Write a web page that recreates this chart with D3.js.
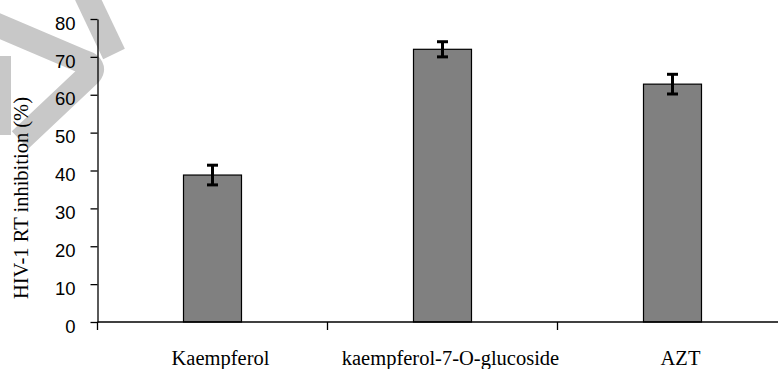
<!DOCTYPE html>
<html>
<head>
<meta charset="utf-8">
<script src="https://cdn.jsdelivr.net/npm/d3@7"></script>
<style>
	body { margin: 0; background: #fff; }
	svg { display: block; }
</style>
</head>
<body>
<div id="root"></div>
<script>
const categories = ["Kaempferol", "kaempferol-7-O-glucoside", "AZT"];
const inhibition = [38.8, 72.0, 62.8];
const errors = [2.6, 2.0, 2.6];
const yTicks = [0, 10, 20, 30, 40, 50, 60, 70, 80];

var svg = d3
		.select("#root")
		.append("svg")
		.attr("width", 778)
		.attr("height", 369),
	margin = { top: 19, left: 97.5, bottom: 47 },
	height = +svg.attr("height") - margin.bottom;

// faint watermark strokes in the top left corner
const wm = svg.append("g")
	.attr("fill", "none")
	.attr("stroke", "#c8c8c8")
	.attr("stroke-width", 24);
wm.append("path").attr("d", "M-10,22 L84,62 Q96,66 90,74 L20,140");
wm.append("path").attr("d", "M86,-5 L114,54");
wm.append("path").attr("stroke-width", 14).attr("d", "M4,56 L4,135");

var x = d3
	.scaleBand()
	.domain(categories)
	.range([margin.left, margin.left + 3 * 230]);

var y = d3.scaleLinear().domain([0, 80]).range([height, margin.top]);

const barW = 58;

// bars
svg.append("g")
	.selectAll("rect")
	.data(categories)
	.join("rect")
	.attr("x", (d) => x(d) + x.bandwidth() / 2 - barW / 2)
	.attr("y", (d, i) => y(inhibition[i]))
	.attr("width", barW)
	.attr("height", (d, i) => y(0) - y(inhibition[i]))
	.attr("fill", "#808080")
	.attr("stroke", "#000")
	.attr("stroke-width", 1.2);

// error bars
const eb = svg.append("g")
	.attr("stroke", "#000")
	.attr("stroke-width", 3)
	.selectAll("g")
	.data(categories)
	.join("g")
	.attr("transform", (d) => `translate(${x(d) + x.bandwidth() / 2},0)`);
eb.append("line")
	.attr("y1", (d, i) => y(inhibition[i] - errors[i]))
	.attr("y2", (d, i) => y(inhibition[i] + errors[i]));
eb.append("line")
	.attr("x1", -5.5).attr("x2", 5.5)
	.attr("y1", (d, i) => y(inhibition[i] + errors[i]))
	.attr("y2", (d, i) => y(inhibition[i] + errors[i]));
eb.append("line")
	.attr("x1", -5.5).attr("x2", 5.5)
	.attr("y1", (d, i) => y(inhibition[i] - errors[i]))
	.attr("y2", (d, i) => y(inhibition[i] - errors[i]));

// y axis
const yAxis = svg.append("g")
	.attr("transform", `translate(${margin.left},0)`)
	.call(d3.axisLeft(y).tickValues(yTicks).tickSize(7).tickSizeOuter(0).tickPadding(15));
yAxis.selectAll("path, line").attr("stroke", "#000").attr("stroke-width", 1.3);
yAxis.selectAll("text")
	.attr("font-family", "Liberation Sans, Arial, sans-serif")
	.attr("font-size", 18.5)
	.attr("fill", "#000")
	.attr("dy", "0.55em");

// x axis: ticks sit on category boundaries
const xAxis = svg.append("g").attr("stroke", "#000").attr("stroke-width", 1.3);
xAxis.append("line")
	.attr("x1", x.range()[0]).attr("x2", x.range()[1])
	.attr("y1", y(0)).attr("y2", y(0));
xAxis.selectAll("line.tick")
	.data(categories.map((d) => x(d)).concat([x.range()[1]]))
	.join("line")
	.attr("class", "tick")
	.attr("x1", (d) => d).attr("x2", (d) => d)
	.attr("y1", y(0)).attr("y2", y(0) + 8);

svg.append("g")
	.selectAll("text")
	.data(categories)
	.join("text")
	.attr("x", (d) => x(d) + x.bandwidth() / 2 + 8)
	.attr("y", 365)
	.attr("text-anchor", "middle")
	.attr("font-family", "Liberation Serif, Times New Roman, serif")
	.attr("font-size", 20.5)
	.text((d) => d);

svg.append("text")
	.attr("transform", "translate(28,198) rotate(-90)")
	.attr("text-anchor", "middle")
	.attr("font-family", "Liberation Serif, Times New Roman, serif")
	.attr("font-size", 20.5)
	.text("HIV-1 RT inhibition (%)");
</script>
</body>
</html>
